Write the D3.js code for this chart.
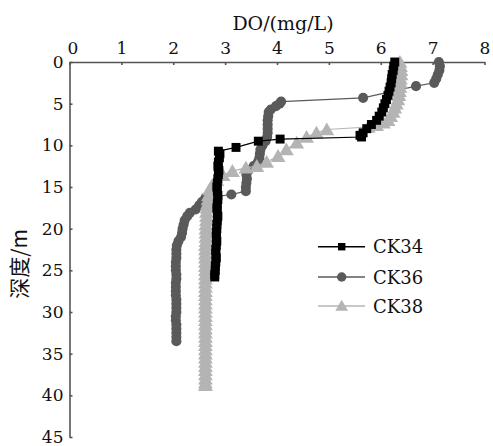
<!DOCTYPE html>
<html lang="zh">
<head>
    <meta charset="UTF-8">
    <title>DO profile</title>
    <script src="https://d3js.org/d3.v7.min.js"></script>
    <style>
        body { margin: 0; background: #fff; }
        .serif { font-family: "DejaVu Serif", serif; }
    </style>
</head>
<body>
    <div id="chart"></div>
    <script>
        // axis ticks
        var doTicks = [0, 1, 2, 3, 4, 5, 6, 7, 8];
        var depthTicks = [0, 5, 10, 15, 20, 25, 30, 35, 40, 45];

        // CK34 - depth (m) and DO (mg/L)
        var ck34Depth = [0, 0.5, 1, 1.5, 2, 2.5, 3, 3.5, 4, 4.5, 5, 5.5, 6, 6.5, 7, 7.5, 8, 8.5, 8.8, 9.0,
            9.25, 9.5, 10.25, 10.7, 11, 11.5, 12, 12.5, 13, 13.5, 14, 14.5, 15, 15.5, 16, 16.5, 17, 17.5,
            18, 18.5, 19, 19.5, 20, 20.5, 21, 21.5, 22, 22.5, 23, 23.5, 24, 24.5, 25, 25.5, 25.8];
        var ck34DO = [6.27, 6.25, 6.24, 6.22, 6.21, 6.2, 6.18, 6.16, 6.14, 6.11, 6.08, 6.05, 6.02, 5.97, 5.92, 5.82, 5.73, 5.66, 5.6, 5.63,
            4.06, 3.64, 3.21, 2.87, 2.9, 2.89, 2.87, 2.86, 2.88, 2.87, 2.86, 2.85, 2.84, 2.85, 2.86, 2.86, 2.85, 2.84,
            2.85, 2.86, 2.85, 2.84, 2.84, 2.83, 2.83, 2.84, 2.83, 2.82, 2.82, 2.83, 2.82, 2.81, 2.81, 2.8, 2.8];

        // CK36
        var ck36Depth = [0, 0.5, 1, 1.5, 2, 2.5, 2.9, 4.3, 4.75, 5.0, 5.3, 5.7, 6.0, 6.5, 7, 7.5, 8, 8.5, 9, 9.5,
            10, 10.5, 11, 11.5, 12, 12.5, 13, 13.5, 14, 14.5, 15, 15.5, 15.9, 16.3, 16.8, 17.2, 17.7, 18.1, 18.5,
            19, 19.5, 20, 20.5, 21, 21.5, 22, 22.5, 23, 23.5, 24, 24.5, 25, 25.5, 26, 26.5, 27, 27.5, 28, 28.5,
            29, 29.5, 30, 30.5, 31, 31.5, 32, 32.5, 33, 33.5];
        var ck36DO = [7.12, 7.14, 7.13, 7.1, 7.07, 7.03, 6.68, 5.66, 4.08, 4.05, 3.98, 3.88, 3.84, 3.83, 3.82, 3.82, 3.82, 3.82, 3.81, 3.78,
            3.72, 3.68, 3.67, 3.66, 3.63, 3.55, 3.45, 3.41, 3.42, 3.41, 3.4, 3.4, 3.12, 2.62, 2.55, 2.5, 2.43, 2.32, 2.27,
            2.22, 2.2, 2.18, 2.17, 2.15, 2.1, 2.07, 2.06, 2.06, 2.06, 2.05, 2.05, 2.05, 2.06, 2.06, 2.05, 2.05, 2.05, 2.05, 2.06,
            2.06, 2.06, 2.06, 2.05, 2.05, 2.06, 2.06, 2.06, 2.06, 2.06];

        // CK38
        var ck38Depth = [0, 0.5, 1, 1.5, 2, 2.5, 3, 3.5, 4, 4.5, 5, 5.5, 6, 6.5, 7, 7.3, 7.6, 7.8, 8.1, 8.5,
            9.0, 9.7, 10.5, 11.3, 12.0, 12.5, 12.7, 13.1, 13.6, 14.2, 14.8, 15.3, 16, 16.5, 17, 17.5, 18, 18.5,
            19, 19.5, 20, 20.5, 21, 21.5, 22, 22.5, 23, 23.5, 24, 24.5, 25, 25.5, 26, 26.5, 27, 27.5, 28, 28.5,
            29, 29.5, 30, 30.5, 31, 31.5, 32, 32.5, 33, 33.5, 34, 34.5, 35, 35.5, 36, 36.5, 37, 37.5, 38, 38.5, 38.8];
        var ck38DO = [6.37, 6.38, 6.39, 6.39, 6.38, 6.38, 6.37, 6.36, 6.35, 6.33, 6.3, 6.27, 6.24, 6.19, 6.14, 6.05, 5.92, 5.76, 4.96, 4.76,
            4.57, 4.38, 4.18, 4.02, 3.8, 3.61, 3.4, 3.14, 2.96, 2.84, 2.75, 2.7, 2.68, 2.67, 2.66, 2.65, 2.64, 2.64,
            2.64, 2.63, 2.63, 2.63, 2.63, 2.63, 2.62, 2.62, 2.62, 2.62, 2.62, 2.62, 2.62, 2.62, 2.62, 2.62, 2.62, 2.62, 2.62, 2.62,
            2.62, 2.62, 2.62, 2.62, 2.62, 2.62, 2.62, 2.62, 2.62, 2.62, 2.62, 2.62, 2.62, 2.62, 2.62, 2.62, 2.62, 2.62, 2.62, 2.62, 2.62];

        var seriesNames = ["CK34", "CK36", "CK38"];
        var seriesColors = ["#000000", "#5a5a5a", "#b4b4b4"];
        var seriesSymbols = [d3.symbolSquare, d3.symbolCircle, d3.symbolTriangle];

        var W = 493, H = 446;
        var svg = d3.select("#chart").append("svg")
            .attr("width", W).attr("height", H);

        var x = d3.scaleLinear().domain([0, 8]).range([69.5, 484.5]);
        var y = d3.scaleLinear().domain([0, 45]).range([62, 437]);

        // X axis on top, ticks pointing inward
        var xAxis = svg.append("g")
            .attr("transform", "translate(0," + y(0) + ")")
            .call(d3.axisTop(x).tickValues(doTicks).tickSizeInner(-3).tickSizeOuter(0).tickPadding(8));

        var yAxis = svg.append("g")
            .attr("transform", "translate(" + x(0) + ",0)")
            .call(d3.axisLeft(y).tickValues(depthTicks).tickSizeInner(-3).tickSizeOuter(0).tickPadding(6));

        svg.selectAll(".domain, .tick line")
            .attr("stroke", "#555").attr("stroke-width", 1.6);
        svg.selectAll("g").attr("font-family", null).attr("font-size", 17);
        svg.selectAll(".tick text")
            .attr("fill", "#111")
            .attr("class", "serif");
        // the corner zero of the x axis sits to the right
        xAxis.selectAll(".tick text").filter(function(d) { return d === 0; }).attr("x", 3);

        svg.append("text")
            .attr("x", 283).attr("y", 30)
            .attr("text-anchor", "middle")
            .attr("font-size", 19)
            .attr("class", "serif")
            .attr("fill", "#111")
            .text("DO/(mg/L)");

        svg.append("text")
            .attr("transform", "translate(27,264) rotate(-90)")
            .attr("text-anchor", "middle")
            .attr("font-size", 21)
            .attr("fill", "#111")
            .attr("font-family", "Noto Sans CJK SC")
            .text("深度/m");

        var allSeries = [
            { depth: ck34Depth, val: ck34DO },
            { depth: ck36Depth, val: ck36DO },
            { depth: ck38Depth, val: ck38DO }
        ];
        var markerSize = [80, 80, 95];

        var line = d3.line()
            .x(function(d) { return x(d[1]); })
            .y(function(d) { return y(d[0]); });

        // draw CK36 first, then CK38, CK34 on top
        [1, 2, 0].forEach(function(i) {
            var s = allSeries[i];
            var pts = s.depth.map(function(d, k) { return [d, s.val[k]]; });
            var g = svg.append("g");
            g.append("path")
                .datum(pts)
                .attr("d", line)
                .attr("fill", "none")
                .attr("stroke", seriesColors[i])
                .attr("stroke-width", 1.2);
            g.selectAll("path.pt")
                .data(pts)
                .join("path")
                .attr("class", "pt")
                .attr("transform", function(d) {
                    var dy = i === 2 ? 1.5 : 0;
                    return "translate(" + x(d[1]) + "," + (y(d[0]) + dy) + ")";
                })
                .attr("d", d3.symbol().type(seriesSymbols[i]).size(markerSize[i]))
                .attr("fill", seriesColors[i]);
        });

        // legend
        var legend = svg.append("g");
        var legendY = [246.7, 277, 306];
        seriesNames.forEach(function(name, i) {
            var ly = legendY[i];
            legend.append("line")
                .attr("x1", 318).attr("x2", 365)
                .attr("y1", ly).attr("y2", ly)
                .attr("stroke", seriesColors[i]).attr("stroke-width", 1.5);
            legend.append("path")
                .attr("transform", "translate(341.7," + (ly + (i === 2 ? 1 : 0)) + ")")
                .attr("d", d3.symbol().type(seriesSymbols[i]).size(i === 0 ? 55 : 70))
                .attr("fill", seriesColors[i]);
            legend.append("text")
                .attr("x", 373).attr("y", ly + 6.5)
                .attr("font-size", 18)
                .attr("fill", "#111")
                .attr("class", "serif")
                .text(name);
        });
    </script>
</body>
</html>
